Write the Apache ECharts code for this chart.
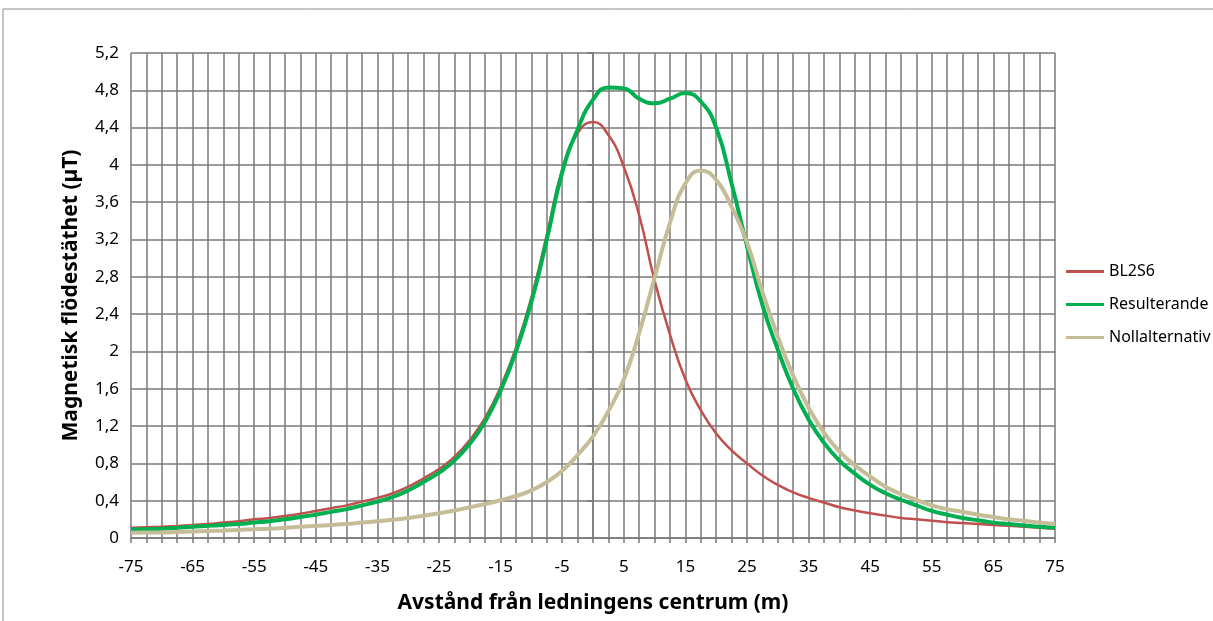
<!DOCTYPE html>
<html>
<head>
<meta charset="utf-8">
<script src="https://cdn.jsdelivr.net/npm/echarts@6/dist/echarts.min.js"></script>
<style>
html, body { margin: 0; padding: 0; background: #fff; }
#chart { width: 1213px; height: 621px; }
</style>
</head>
<body>
<div id="chart"></div>
<script>
// avstånd (m) and flödestäthet (µT)
var dist = [-75, -72.5, -70, -67.5, -65, -62.5, -60, -57.5, -55, -52.5, -50, -47.5, -45, -42.5, -40, -37.5,
    -35, -32.5, -30, -27.5, -25, -22.5, -20, -17.5, -15, -12.5, -10, -7.5, -5, -2.5, 0, 2.5,
    5, 7.5, 10, 12.5, 15, 17.5, 20, 22.5, 25, 27.5, 30, 32.5, 35, 37.5, 40, 42.5,
    45, 47.5, 50, 52.5, 55, 57.5, 60, 62.5, 65, 67.5, 70, 72.5, 75];

var bl2s6 = [0.11, 0.115, 0.12, 0.13, 0.14, 0.15, 0.165, 0.18, 0.20, 0.215, 0.235, 0.26, 0.29, 0.32, 0.35, 0.39,
    0.43, 0.48, 0.55, 0.64, 0.74, 0.87, 1.05, 1.29, 1.62, 2.04, 2.58, 3.25, 3.95, 4.34, 4.46, 4.32,
    3.98, 3.46, 2.76, 2.18, 1.70, 1.37, 1.12, 0.94, 0.80, 0.67, 0.57, 0.49, 0.43, 0.38, 0.33, 0.295,
    0.265, 0.24, 0.215, 0.20, 0.185, 0.17, 0.16, 0.15, 0.14, 0.13, 0.12, 0.11, 0.10];

var resulterande = [0.09, 0.095, 0.10, 0.11, 0.12, 0.13, 0.14, 0.15, 0.165, 0.18, 0.20, 0.225, 0.25, 0.28, 0.31, 0.35,
    0.39, 0.44, 0.51, 0.60, 0.70, 0.83, 1.01, 1.25, 1.58, 2.00, 2.53, 3.20, 3.92, 4.38, 4.70, 4.83,
    4.82, 4.71, 4.66, 4.71, 4.77, 4.68, 4.40, 3.80, 3.13, 2.50, 2.02, 1.60, 1.27, 1.02, 0.83, 0.69,
    0.57, 0.48, 0.41, 0.35, 0.29, 0.25, 0.215, 0.19, 0.165, 0.15, 0.135, 0.12, 0.11];

var nollalternativ = [0.055, 0.058, 0.06, 0.065, 0.07, 0.075, 0.08, 0.087, 0.095, 0.10, 0.11, 0.12, 0.13, 0.14, 0.15, 0.165,
    0.18, 0.195, 0.215, 0.24, 0.265, 0.295, 0.33, 0.365, 0.405, 0.45, 0.51, 0.60, 0.72, 0.89, 1.09, 1.36,
    1.70, 2.20, 2.79, 3.38, 3.80, 3.94, 3.84, 3.55, 3.17, 2.64, 2.16, 1.74, 1.40, 1.13, 0.93, 0.78,
    0.66, 0.55, 0.47, 0.41, 0.35, 0.31, 0.28, 0.25, 0.225, 0.20, 0.185, 0.165, 0.15];

var seriesNames = ['BL2S6', 'Resulterande', 'Nollalternativ'];
var seriesColors = ['#C0504D', '#00B050', '#C4BD97'];
var seriesWidths = [2.5, 4, 4];

var font = '"Noto Sans", "Open Sans", sans-serif';
var gridColor = '#7a7a7a';

function pairs(values) {
    return dist.map(function (d, i) { return [d, values[i]]; });
}

function makeSeries(i, values) {
    return {
        name: seriesNames[i],
        type: 'line',
        data: pairs(values),
        smooth: true,
        showSymbol: false,
        color: seriesColors[i],
        lineStyle: { width: seriesWidths[i], color: seriesColors[i] }
    };
}

var chart = echarts.init(document.getElementById('chart'), null, { renderer: 'canvas' });

chart.setOption({
    backgroundColor: '#fff',
    animation: false,
    graphic: [{
        type: 'rect',
        shape: { x: 3, y: 9, width: 1240, height: 640 },
        style: { fill: 'none', stroke: '#8a8a8a', lineWidth: 1 }
    }],
    grid: { left: 131, right: 158, top: 53, bottom: 83 },
    legend: {
        orient: 'vertical',
        left: 1061,
        top: 258,
        itemWidth: 38,
        itemHeight: 3,
        itemGap: 16,
        icon: 'rect',
        data: seriesNames,
        textStyle: { fontFamily: font, fontSize: 16, lineHeight: 17, color: '#000' }
    },
    xAxis: {
        type: 'value',
        min: -75,
        max: 75,
        interval: 2.5,
        name: 'Avstånd från ledningens centrum (m)',
        nameLocation: 'middle',
        nameGap: 55,
        nameTextStyle: { fontFamily: font, fontSize: 21, fontWeight: 'bold', color: '#000' },
        axisLine: { lineStyle: { color: gridColor, width: 1.5 } },
        axisTick: { show: true, length: 5, lineStyle: { color: gridColor, width: 1.5 } },
        axisLabel: {
            fontFamily: font, fontSize: 17, color: '#000', margin: 21,
            formatter: function (v) {
                return Math.round((v + 75) * 10) % 100 === 0 ? String(v) : '';
            }
        },
        splitLine: { show: true, lineStyle: { color: gridColor, width: 1.5 } }
    },
    yAxis: {
        type: 'value',
        min: 0,
        max: 5.2,
        interval: 0.4,
        name: 'Magnetisk flödestäthet (µT)',
        nameLocation: 'middle',
        nameGap: 49,
        nameTextStyle: { fontFamily: font, fontSize: 21, fontWeight: 'bold', color: '#000' },
        axisLine: { show: true, lineStyle: { color: gridColor, width: 1.5 } },
        axisTick: { show: true, length: 6, lineStyle: { color: gridColor, width: 1.5 } },
        axisLabel: {
            fontFamily: font, fontSize: 17, color: '#000', margin: 12,
            formatter: function (v) {
                return String(Math.round(v * 10) / 10).replace('.', ',');
            }
        },
        splitLine: { show: true, lineStyle: { color: gridColor, width: 1.5 } }
    },
    series: [
        makeSeries(0, bl2s6),
        makeSeries(1, resulterande),
        makeSeries(2, nollalternativ)
    ]
});

window.addEventListener('resize', function () {
    chart.resize();
});
</script>
</body>
</html>
